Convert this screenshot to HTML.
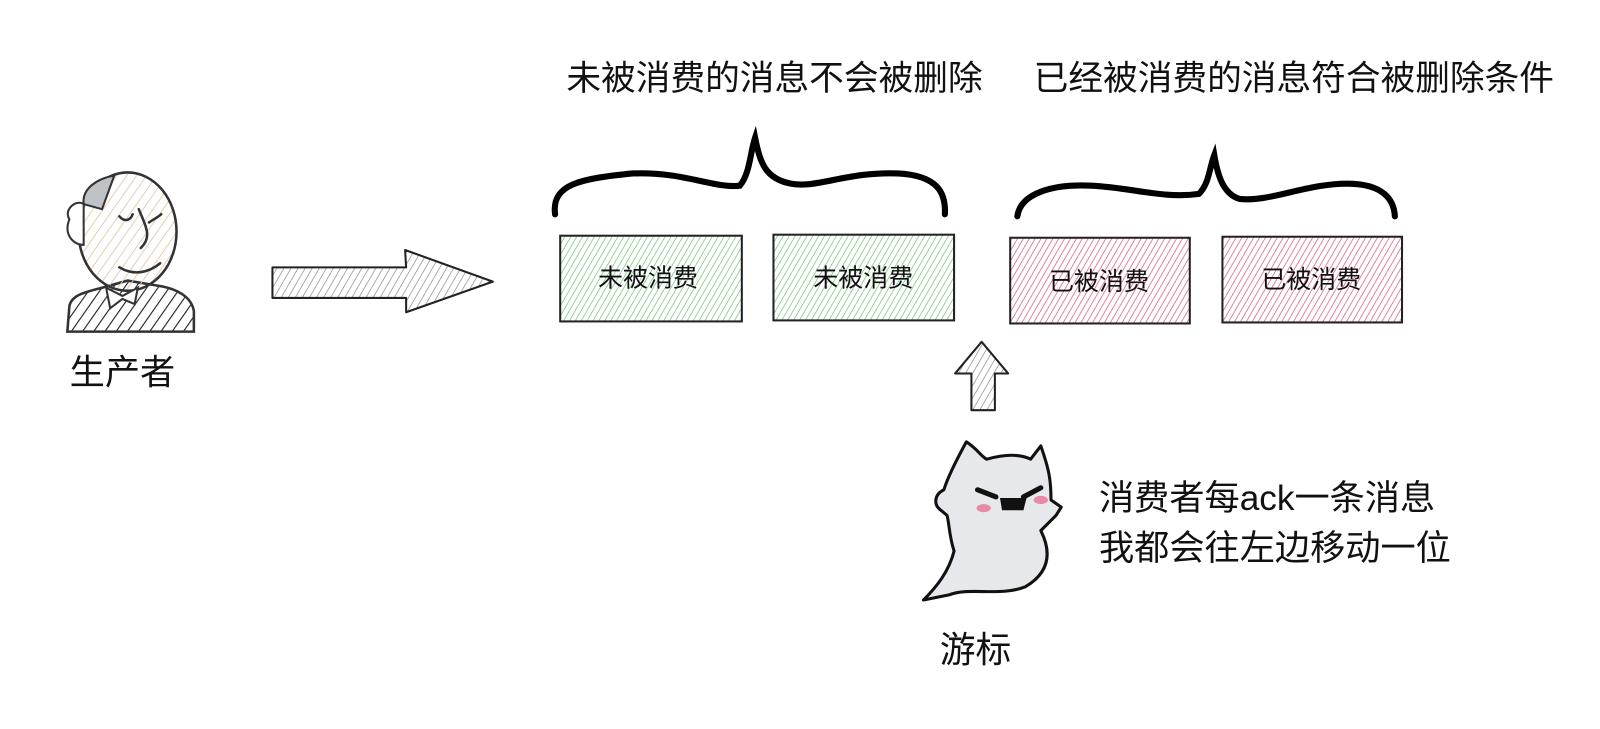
<!DOCTYPE html>
<html><head><meta charset="utf-8"><style>
html,body{margin:0;padding:0;background:#fff;width:1600px;height:729px;overflow:hidden}
svg{display:block}
text{font-family:"Liberation Sans","Noto Sans CJK SC",sans-serif;fill:#111}
</style></head><body>
<svg width="1600" height="729" viewBox="0 0 1600 729">
<defs>
<pattern id="hg" width="5" height="5" patternUnits="userSpaceOnUse" patternTransform="rotate(30)"><line x1="0" y1="0" x2="0" y2="5" stroke="#8fd18f" stroke-width="1.8"/></pattern>
<pattern id="hr" width="5" height="5" patternUnits="userSpaceOnUse" patternTransform="rotate(30)"><line x1="0" y1="0" x2="0" y2="5" stroke="#e07b96" stroke-width="1.8"/></pattern>
<pattern id="hgr" width="6" height="6" patternUnits="userSpaceOnUse" patternTransform="rotate(30)"><line x1="0" y1="0" x2="0" y2="6" stroke="#999" stroke-width="1.6"/></pattern>
<pattern id="hsk" width="8" height="8" patternUnits="userSpaceOnUse" patternTransform="rotate(35)"><line x1="0" y1="0" x2="0" y2="8" stroke="#e8c9a4" stroke-width="1.8"/></pattern>
<pattern id="hbk" width="9" height="9" patternUnits="userSpaceOnUse" patternTransform="rotate(35)"><line x1="0" y1="0" x2="0" y2="9" stroke="#222" stroke-width="2.2"/></pattern>
</defs>
<g transform="scale(1.0204)">
<text x="555" y="88" font-size="34">未被消费的消息不会被删除</text>
<text x="1013" y="88" font-size="34">已经被消费的消息符合被删除条件</text>

<path d="M544 210 C540 180 570 175 620 170 C670 168 700 185 725 182 C735 170 735 150 740 135 C745 160 750 175 775 180 C800 185 830 168 880 170 C920 172 927 190 926 210" fill="none" stroke="#000" stroke-width="6" stroke-linecap="round"/>
<path d="M997 212 C1000 190 1030 180 1070 182 C1110 184 1140 195 1175 190 C1185 180 1185 165 1190 152 C1193 170 1198 190 1215 195 C1245 198 1280 180 1320 180 C1355 180 1366 195 1367 212" fill="none" stroke="#000" stroke-width="6" stroke-linecap="round"/>

<rect x="549" y="231" width="178" height="84" fill="url(#hg)" stroke="#222" stroke-width="2"/>
<rect x="758" y="230" width="177" height="84" fill="url(#hg)" stroke="#222" stroke-width="2"/>
<rect x="990" y="233" width="176" height="84" fill="url(#hr)" stroke="#222" stroke-width="2"/>
<rect x="1198" y="232" width="176" height="84" fill="url(#hr)" stroke="#222" stroke-width="2"/>
<text x="635" y="281" font-size="24.5" text-anchor="middle">未被消费</text>
<text x="846" y="281" font-size="24.5" text-anchor="middle">未被消费</text>
<text x="1077" y="284" font-size="24.5" text-anchor="middle">已被消费</text>
<text x="1285" y="282" font-size="24.5" text-anchor="middle">已被消费</text>

<path d="M267 262 L398 262 L397 245 L483 276 L398 306 L398 292 L267 292 Z" fill="url(#hgr)" stroke="#222" stroke-width="2" stroke-linejoin="round"/>
<path d="M962 335 L988 366 L975 366 L975 402 L952 402 L952 366 L936 366 Z" fill="url(#hgr)" stroke="#222" stroke-width="2" stroke-linejoin="round"/>

<path d="M66 325 L68 300 C70 290 80 287 100 282 L125 275 L155 280 C175 283 188 292 190 305 L190 325 Z" fill="url(#hbk)" stroke="#333" stroke-width="2.5"/>
<ellipse cx="125" cy="227" rx="48" ry="58" fill="url(#hsk)" stroke="#333" stroke-width="2.5"/>
<path d="M82 200 C80 185 95 175 112 172 L100 205 Z" fill="#bfc3c6" stroke="#333" stroke-width="2"/>
<path d="M68 215 C62 205 75 195 82 200 L82 240 C72 240 62 230 68 215 Z" fill="#fff" stroke="#333" stroke-width="2"/>
<path d="M117 212 C122 218 128 216 130 210 M146 218 C152 214 156 212 158 210 M136 205 C142 220 150 232 138 243 M117 262 C130 270 145 268 157 258" fill="none" stroke="#333" stroke-width="2.5" stroke-linecap="round"/>
<path d="M104 282 L120 290 L135 282 L132 298 L120 293 L108 302 Z" fill="#fff" stroke="#333" stroke-width="2"/>
<text x="120" y="377" font-size="34.5" text-anchor="middle">生产者</text>

<path d="M947 433 C958 440 962 448 967 450 C985 445 1000 445 1010 450 L1020 437 C1028 460 1030 470 1030 490 L1040 497 L1035 505 C1030 510 1025 515 1020 520 C1030 540 1030 560 1005 575 C980 585 950 575 930 583 L905 588 C918 575 930 560 935 540 C930 525 930 510 928 505 L922 500 C915 495 915 485 925 480 C928 470 935 455 947 433 Z" fill="#e6e8eb" stroke="#111" stroke-width="3" stroke-linejoin="round"/>
<path d="M958 480 L976 487 M1003 487 L1020 478" stroke="#111" stroke-width="5" stroke-linecap="round"/>
<path d="M980 488 L1006 488 L1003 500 L982 500 Z" fill="#111"/>
<ellipse cx="964" cy="498" rx="7" ry="4" fill="#e88aa6"/>
<ellipse cx="1020" cy="490" rx="7" ry="4" fill="#e88aa6"/>
<text x="956" y="649" font-size="35" text-anchor="middle">游标</text>

<text x="1077" y="500" font-size="34.5">消费者每ack一条消息</text>
<text x="1077" y="549" font-size="34.5">我都会往左边移动一位</text>
</g>
</svg>
</body></html>
